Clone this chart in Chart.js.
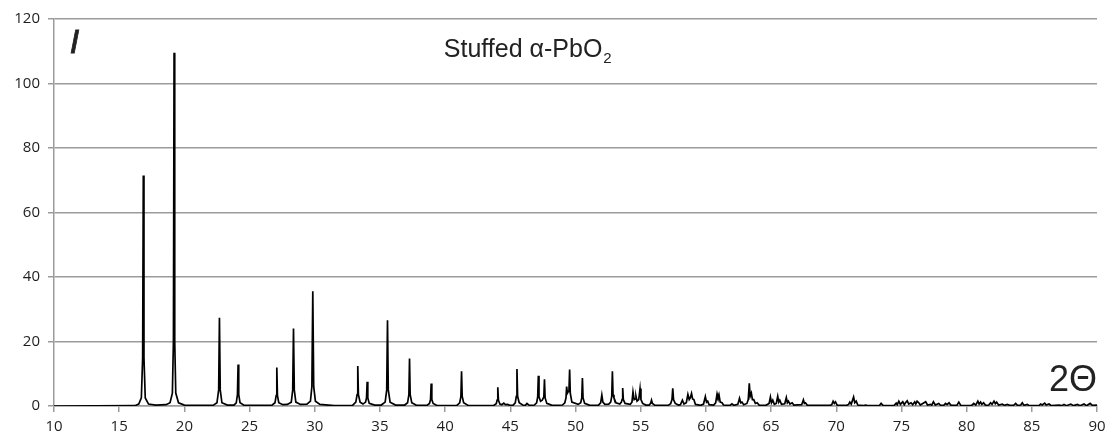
<!DOCTYPE html>
<html>
<head>
<meta charset="utf-8">
<script src="https://cdn.jsdelivr.net/npm/chart.js@4.4.1/dist/chart.umd.min.js"></script>
<style>
  html, body { margin: 0; padding: 0; background: #fff; }
</style>
</head>
<body>
<canvas id="xrd" width="1108" height="437"></canvas>
<script>
// [2theta, I] pairs, split by angle range
const lowAngle = [
  [10, 0], [16.2, 0.1], [16.5, 0.6], [16.7, 2.5], [16.8, 15], [16.85, 71.5], [16.9, 15], [17.0, 2.5], [17.25, 0.6], [17.8, 0.3],
  [18.6, 0.4], [18.9, 1.0], [19.08, 4], [19.16, 20], [19.21, 109.5], [19.26, 20], [19.34, 4], [19.55, 1.0], [20.0, 0.3],
  [22.2, 0.2], [22.5, 1], [22.63, 5], [22.69, 27.4], [22.75, 5], [22.88, 1], [23.3, 0.3],
  [23.8, 0.3], [23.98, 1], [24.07, 3.5], [24.12, 12.9], [24.17, 3.5], [24.27, 1], [24.6, 0.2],
  [26.7, 0.2], [26.95, 1], [27.04, 3.2], [27.09, 11.9], [27.14, 3.2], [27.24, 1], [27.55, 0.4],
  [27.9, 0.5], [28.2, 1.2], [28.31, 5], [28.37, 24], [28.43, 5], [28.55, 1.2], [28.9, 0.5],
  [29.4, 0.6], [29.67, 1.5], [29.78, 6], [29.85, 35.6], [29.92, 6], [30.05, 1.5], [30.4, 0.5], [31.5, 0.1]
];
const midAngle = [
  [32.9, 0.2], [33.15, 1.2], [33.25, 3.5], [33.3, 12.4], [33.35, 3.5], [33.48, 1.2],
  [33.7, 0.6], [33.9, 1.2], [33.97, 2.5], [34.02, 7.5], [34.07, 2.5], [34.18, 0.8], [34.6, 0.3],
  [35.1, 0.3], [35.4, 1.2], [35.52, 5], [35.58, 26.6], [35.64, 5], [35.78, 1.2], [36.2, 0.3],
  [36.9, 0.3], [37.12, 1], [37.22, 3.5], [37.27, 14.7], [37.32, 3.5], [37.44, 1], [37.8, 0.2],
  [38.6, 0.2], [38.8, 0.8], [38.88, 2], [38.93, 7], [38.98, 2], [39.08, 0.8], [39.4, 0.1],
  [40.9, 0.2], [41.12, 1], [41.21, 3], [41.26, 10.8], [41.31, 3], [41.42, 1], [41.8, 0.1],
  [43.7, 0.1], [43.92, 0.7], [43.99, 1.8], [44.04, 5.8], [44.09, 1.8], [44.2, 0.6], [44.35, 0.4],
  [44.5, 0.9], [44.62, 0.4], [44.8, 0.5], [44.95, 0.2],
  [45.2, 0.2], [45.38, 1], [45.46, 3], [45.51, 11.5], [45.56, 3], [45.68, 1], [45.95, 0.3],
  [46.15, 0.2], [46.28, 0.8], [46.45, 0.2],
  [46.85, 0.3], [47.02, 1], [47.1, 2.8], [47.15, 9.4], [47.2, 2.8], [47.32, 1.5], [47.45, 1.8], [47.57, 2.8], [47.62, 8.3], [47.67, 2.5], [47.8, 0.8], [48.2, 0.2],
  [49.0, 0.3], [49.18, 1], [49.27, 2.5], [49.32, 6], [49.38, 4], [49.45, 4.5], [49.5, 5], [49.55, 11.3], [49.6, 4], [49.72, 1.2],
  [50.2, 0.5], [50.4, 1], [50.48, 2.5], [50.53, 8.7], [50.58, 2.5], [50.7, 0.8], [51.1, 0.2],
  [51.75, 0.2], [51.93, 1], [52.02, 3.4], [52.1, 1.2], [52.25, 0.5],
  [52.55, 0.6], [52.7, 1.2], [52.78, 3], [52.83, 10.8], [52.88, 3.5], [52.95, 2.5], [53.1, 1],
  [53.4, 0.6], [53.52, 1.2], [53.57, 2], [53.62, 5.6], [53.67, 2], [53.8, 0.8],
  [54.2, 0.5], [54.33, 1.2], [54.41, 4.4], [54.5, 2], [54.58, 2.2], [54.64, 3.0], [54.72, 1.5], [54.85, 2], [54.95, 5.4], [55.02, 2], [55.15, 0.8], [55.4, 0.3],
  [55.65, 0.3], [55.76, 0.8], [55.83, 1.8], [55.9, 0.8], [56.1, 0.2]
];
const highAngle = [
  [57.1, 0.2], [57.3, 0.7], [57.4, 2], [57.46, 5.5], [57.52, 2], [57.65, 0.8], [57.9, 0.3],
  [58.05, 0.4], [58.2, 1.8], [58.32, 0.6], [58.5, 1], [58.62, 3.6], [58.72, 2], [58.8, 2.5], [58.9, 3.9], [58.98, 2.2], [59.08, 2.0], [59.2, 0.5], [59.6, 0.2],
  [59.82, 0.6], [59.96, 2.9], [60.05, 1.2], [60.14, 1.5], [60.25, 0.4], [60.6, 0.3],
  [60.75, 1], [60.86, 3.8], [60.93, 2.8], [61.0, 3.6], [61.1, 1.2], [61.24, 1.0], [61.35, 0.3],
  [61.85, 0.2], [62.0, 0.7], [62.15, 0.2],
  [62.45, 0.5], [62.58, 2.4], [62.67, 1], [62.77, 1.2], [62.9, 0.4],
  [63.15, 0.8], [63.25, 2], [63.33, 7.0], [63.4, 3], [63.49, 4], [63.57, 2], [63.67, 2], [63.8, 0.8], [63.93, 1], [64.1, 0.2], [64.6, 0.2],
  [64.85, 0.8], [64.95, 2.8], [65.03, 1], [65.13, 1.8], [65.25, 0.5],
  [65.4, 0.8], [65.51, 3.0], [65.59, 1.2], [65.67, 1.8], [65.8, 0.5],
  [66.05, 0.7], [66.17, 2.6], [66.25, 1], [66.33, 1.5], [66.45, 0.6], [66.62, 1.0], [66.75, 0.3],
  [67.35, 0.4], [67.48, 1.9], [67.56, 0.8], [67.64, 1.0], [67.78, 0.2], [69.5, 0.2],
  [69.65, 0.4], [69.76, 1.5], [69.85, 0.8], [69.94, 1.3], [70.08, 0.2], [70.8, 0.2],
  [70.95, 0.5], [71.04, 1.2], [71.15, 0.6], [71.33, 2.8], [71.42, 1], [71.53, 1.5], [71.65, 0.3],
  [72.1, 0.1], [72.25, 0.3], [72.4, 0.1], [73.3, 0.1], [73.44, 0.8], [73.6, 0.1], [74.45, 0.2],
  [74.6, 0.9], [74.68, 0.4], [74.8, 1.5], [74.92, 0.5], [75.1, 1.3], [75.22, 0.4], [75.31, 1.0], [75.44, 1.6], [75.56, 0.6],
  [75.74, 1.0], [75.86, 0.4], [76.02, 1.3], [76.1, 0.6], [76.2, 1.5], [76.33, 1.0], [76.45, 0.3], [76.7, 0.9], [76.86, 1.3], [77.0, 0.3],
  [77.23, 0.5], [77.33, 0.3], [77.45, 1.3], [77.6, 0.3], [77.86, 0.8], [78.0, 0.2], [78.25, 0.2], [78.38, 0.8], [78.5, 0.4], [78.65, 1.0], [78.8, 0.2],
  [79.25, 0.2], [79.4, 1.2], [79.55, 0.2], [80.3, 0.1],
  [80.45, 0.4], [80.55, 0.8], [80.7, 0.3], [80.86, 1.5], [80.96, 0.6], [81.07, 1.2], [81.17, 0.5], [81.3, 1.0], [81.45, 0.2],
  [81.7, 0.3], [81.84, 1.0], [81.95, 0.5], [82.1, 1.5], [82.2, 0.7], [82.3, 1.2], [82.45, 0.3], [82.74, 0.6], [82.9, 0.2], [83.12, 0.5], [83.3, 0.2],
  [83.6, 0.2], [83.76, 0.8], [83.9, 0.2], [84.15, 0.3], [84.27, 1.0], [84.4, 0.2], [84.66, 0.5], [84.8, 0.1],
  [85.55, 0.1], [85.68, 0.6], [85.8, 0.3], [85.99, 0.9], [86.1, 0.3], [86.32, 0.6], [86.5, 0.1],
  [87.09, 0.3], [87.3, 0.1], [87.47, 0.5], [87.65, 0.1], [87.99, 0.6], [88.2, 0.1], [88.5, 0.5], [88.7, 0.1],
  [89.0, 0.6], [89.2, 0.1], [89.47, 0.8], [89.65, 0.2], [90, 0.3]
];

const xTicks = [10, 15, 20, 25, 30, 35, 40, 45, 50, 55, 60, 65, 70, 75, 80, 85, 90];
const yTicks = [0, 20, 40, 60, 80, 100, 120];

const titleText = 'Stuffed \u03b1-PbO';
const titleSub = '2';
const yAxisLabel = 'I';
const xAxisLabel = '2\u0398';

const points = [...lowAngle, ...midAngle, ...highAngle].map(([x, y]) => ({ x, y }));

const tickFont = { family: '"Open Sans", sans-serif', size: 15 };
const gridGrey = '#9b9b9b';

// text drawn inside the plot, placed in data coordinates
const annotations = {
  id: 'annotations',
  afterDraw(chart) {
    const { ctx } = chart;
    const { x, y } = chart.scales;
    ctx.save();
    ctx.fillStyle = '#222';
    ctx.textBaseline = 'alphabetic';

    ctx.font = '25px "Liberation Sans", Arial, sans-serif';
    const tx = x.getPixelForValue(39.9);
    const ty = y.getPixelForValue(108.2);
    ctx.fillText(titleText, tx, ty);
    const w = ctx.measureText(titleText).width;
    ctx.font = '15px "Liberation Sans", Arial, sans-serif';
    ctx.fillText(titleSub, tx + w + 1, ty + 6);

    ctx.font = 'italic 34px "Liberation Sans", Arial, sans-serif';
    ctx.lineWidth = 0.8;
    ctx.strokeStyle = '#222';
    const ix = x.getPixelForValue(11.2), iy = y.getPixelForValue(109.4);
    ctx.fillText(yAxisLabel, ix, iy);
    ctx.strokeText(yAxisLabel, ix, iy);

    ctx.font = '36px "Liberation Sans", Arial, sans-serif';
    ctx.textAlign = 'right';
    ctx.fillText(xAxisLabel, x.getPixelForValue(90), y.getPixelForValue(4.65));
    ctx.restore();
  }
};

new Chart(document.getElementById('xrd'), {
  type: 'line',
  data: {
    datasets: [{
      data: points,
      borderColor: '#000',
      borderWidth: 1.7,
      pointRadius: 0,
      tension: 0,
      fill: false
    }]
  },
  options: {
    responsive: false,
    animation: false,
    layout: { padding: { left: 0, right: 11, top: 19, bottom: 0 } },
    plugins: {
      legend: { display: false },
      tooltip: { enabled: false }
    },
    scales: {
      x: {
        type: 'linear',
        min: 10,
        max: 90,
        afterBuildTicks: (s) => { s.ticks = xTicks.map(v => ({ value: v })); },
        // keep the plot edge fixed; label overhang is covered by layout padding
        afterFit: (s) => { s.height = 31; s.paddingLeft = 0; s.paddingRight = 0; },
        grid: { drawOnChartArea: false, drawTicks: true, tickLength: 6, color: gridGrey, lineWidth: 1.5 },
        border: { color: gridGrey, width: 1.5 },
        ticks: { font: tickFont, color: '#1e1e1e', padding: 6, maxRotation: 0, autoSkip: false }
      },
      y: {
        min: 0,
        max: 120,
        afterBuildTicks: (s) => { s.ticks = yTicks.map(v => ({ value: v })); },
        afterFit: (s) => { s.width = 54; },
        grid: { color: gridGrey, lineWidth: 1.5, tickLength: 6 },
        border: { color: gridGrey, width: 1.5 },
        ticks: { font: tickFont, color: '#1e1e1e', padding: 8 }
      }
    }
  },
  plugins: [annotations]
});
</script>
</body>
</html>
